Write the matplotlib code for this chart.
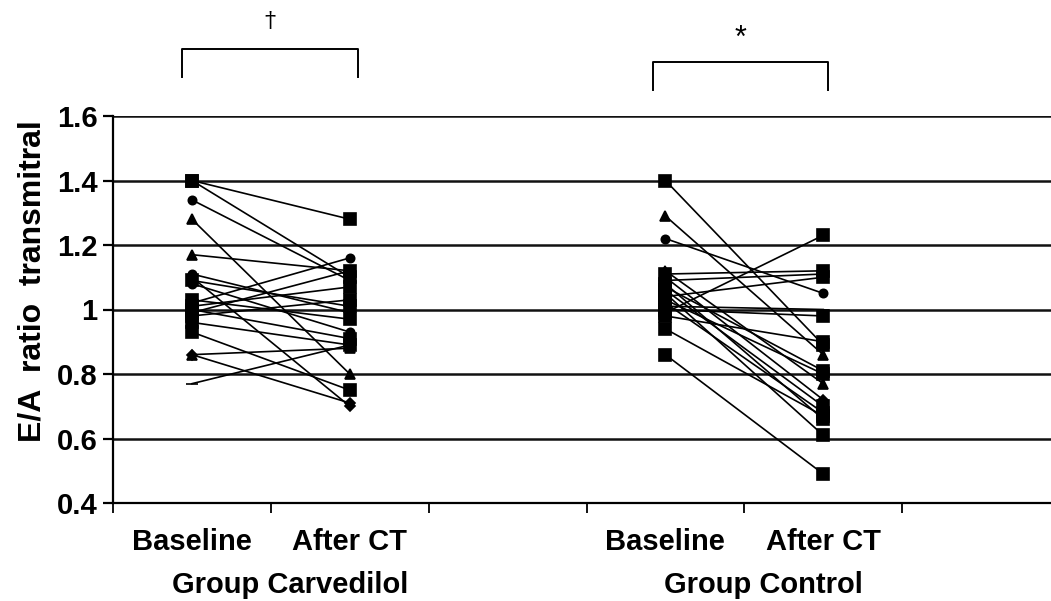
import matplotlib
matplotlib.use('Agg')
import matplotlib.pyplot as plt
import matplotlib.transforms as mtransforms

plt.rcParams['font.family'] = ['Liberation Sans', 'DejaVu Sans']

# categories on the x axis (one empty slot after each group)
categories = ['Baseline', 'After CT', '', 'Baseline', 'After CT', '']
groups = ['Group Carvedilol', 'Group Control']

# E/A ratio per patient, baseline and after CT
carv_base = [1.40, 1.40, 1.34, 1.28, 1.17, 1.11, 1.10, 1.09, 1.08, 1.02,
             1.03, 1.01, 1.00, 0.99, 0.98, 0.96, 0.93, 0.86, 0.86, 0.77]
carv_after = [1.28, 1.10, 1.09, 0.80, 1.12, 0.99, 0.70, 1.01, 0.93, 1.16,
              0.97, 1.07, 0.91, 1.12, 1.03, 0.89, 0.75, 0.88, 0.71, 0.89]
carv_mark = ['s', 's', 'o', '^', '^', 'o', 'D', 's', 'o', 'o',
             's', 's', 's', 's', 's', 's', 's', '^', 'D', '_']

ctrl_base = [1.40, 1.29, 1.22, 1.12, 1.11, 1.10, 1.09, 1.08, 1.07, 1.06,
             1.05, 1.04, 1.03, 1.02, 1.01, 1.00, 0.99, 0.98, 0.94, 0.86]
ctrl_after = [0.89, 0.86, 1.05, 0.77, 1.12, 0.72, 1.11, 0.66, 0.81, 0.70,
              0.61, 1.10, 0.80, 0.68, 1.00, 0.98, 1.23, 0.90, 0.67, 0.49]
ctrl_mark = ['s', '^', 'o', '^', 's', 'D', 'o', 's', 's', 's',
             's', 's', 's', 's', '_', 's', 's', 's', 's', 's']

msize = {'s': 8.5, 'o': 6, '^': 7, 'D': 5.5, '_': 9}

fig = plt.figure(figsize=(10.51, 6.01), dpi=100)
ax = fig.add_axes([113 / 1051, 98 / 601, 947 / 1051, 387 / 601])

xpos = [i + 0.5 for i in range(len(categories))]


def draw_group(base, after, marks, i0, i1):
    for b, a, m in zip(base, after, marks):
        ax.plot([xpos[i0], xpos[i1]], [b, a], color='black', lw=1.2,
                marker=m, ms=msize[m], mfc='black', mec='black', mew=1.2,
                zorder=3)


draw_group(carv_base, carv_after, carv_mark, 0, 1)
draw_group(ctrl_base, ctrl_after, ctrl_mark, 3, 4)

ax.set_xlim(0, len(categories))
ax.set_ylim(0.4, 1.6)
ax.set_yticks([0.4, 0.6, 0.8, 1.0, 1.2, 1.4, 1.6])
ax.set_yticklabels(['0.4', '0.6', '0.8', '1', '1.2', '1.4', '1.6'])
ax.yaxis.grid(True, color='#111111', lw=1.8)
ax.set_axisbelow(True)

ax.set_xticks(range(len(categories)))
ax.set_xticklabels([])
ax.set_xticks(xpos, minor=True)
ax.set_xticklabels(categories, minor=True)
ax.tick_params(axis='x', which='major', direction='out', length=7, width=1.3)
ax.tick_params(axis='x', which='minor', length=0, pad=18, labelsize=21)
ax.tick_params(axis='y', direction='out', length=7, width=1.6, pad=4,
               labelsize=21)
for lab in ax.get_xticklabels(minor=True) + ax.get_yticklabels():
    lab.set_fontweight('bold')

for s in ['top', 'right']:
    ax.spines[s].set_visible(False)
for s in ['left', 'bottom']:
    ax.spines[s].set_linewidth(1.6)

# group names under the category labels
trans = mtransforms.blended_transform_factory(ax.transData, ax.transAxes)
ax.text(1.12, -0.213, groups[0], transform=trans, ha='center', va='center',
        fontsize=21, fontweight='bold')
ax.text(4.12, -0.213, groups[1], transform=trans, ha='center', va='center',
        fontsize=21, fontweight='bold')

# significance brackets
ax.plot([0.44, 0.44, 1.55, 1.55], [1.721, 1.808, 1.808, 1.721],
        color='black', lw=1.4, clip_on=False)
ax.text(0.995, 1.895, '\u2020', ha='center', va='center', fontsize=16,
        family=['DejaVu Serif'])
ax.plot([3.42, 3.42, 4.53, 4.53], [1.68, 1.767, 1.767, 1.68],
        color='black', lw=1.4, clip_on=False)
ax.text(3.975, 1.84, '*', ha='center', va='center', fontsize=22)

fig.text(33 / 1051, 1 - 281 / 601, 'E/A  ratio  transmitral', rotation=90,
         ha='center', va='center', fontsize=23, fontweight='bold')

fig.savefig('out.png', dpi=100, facecolor='white')
